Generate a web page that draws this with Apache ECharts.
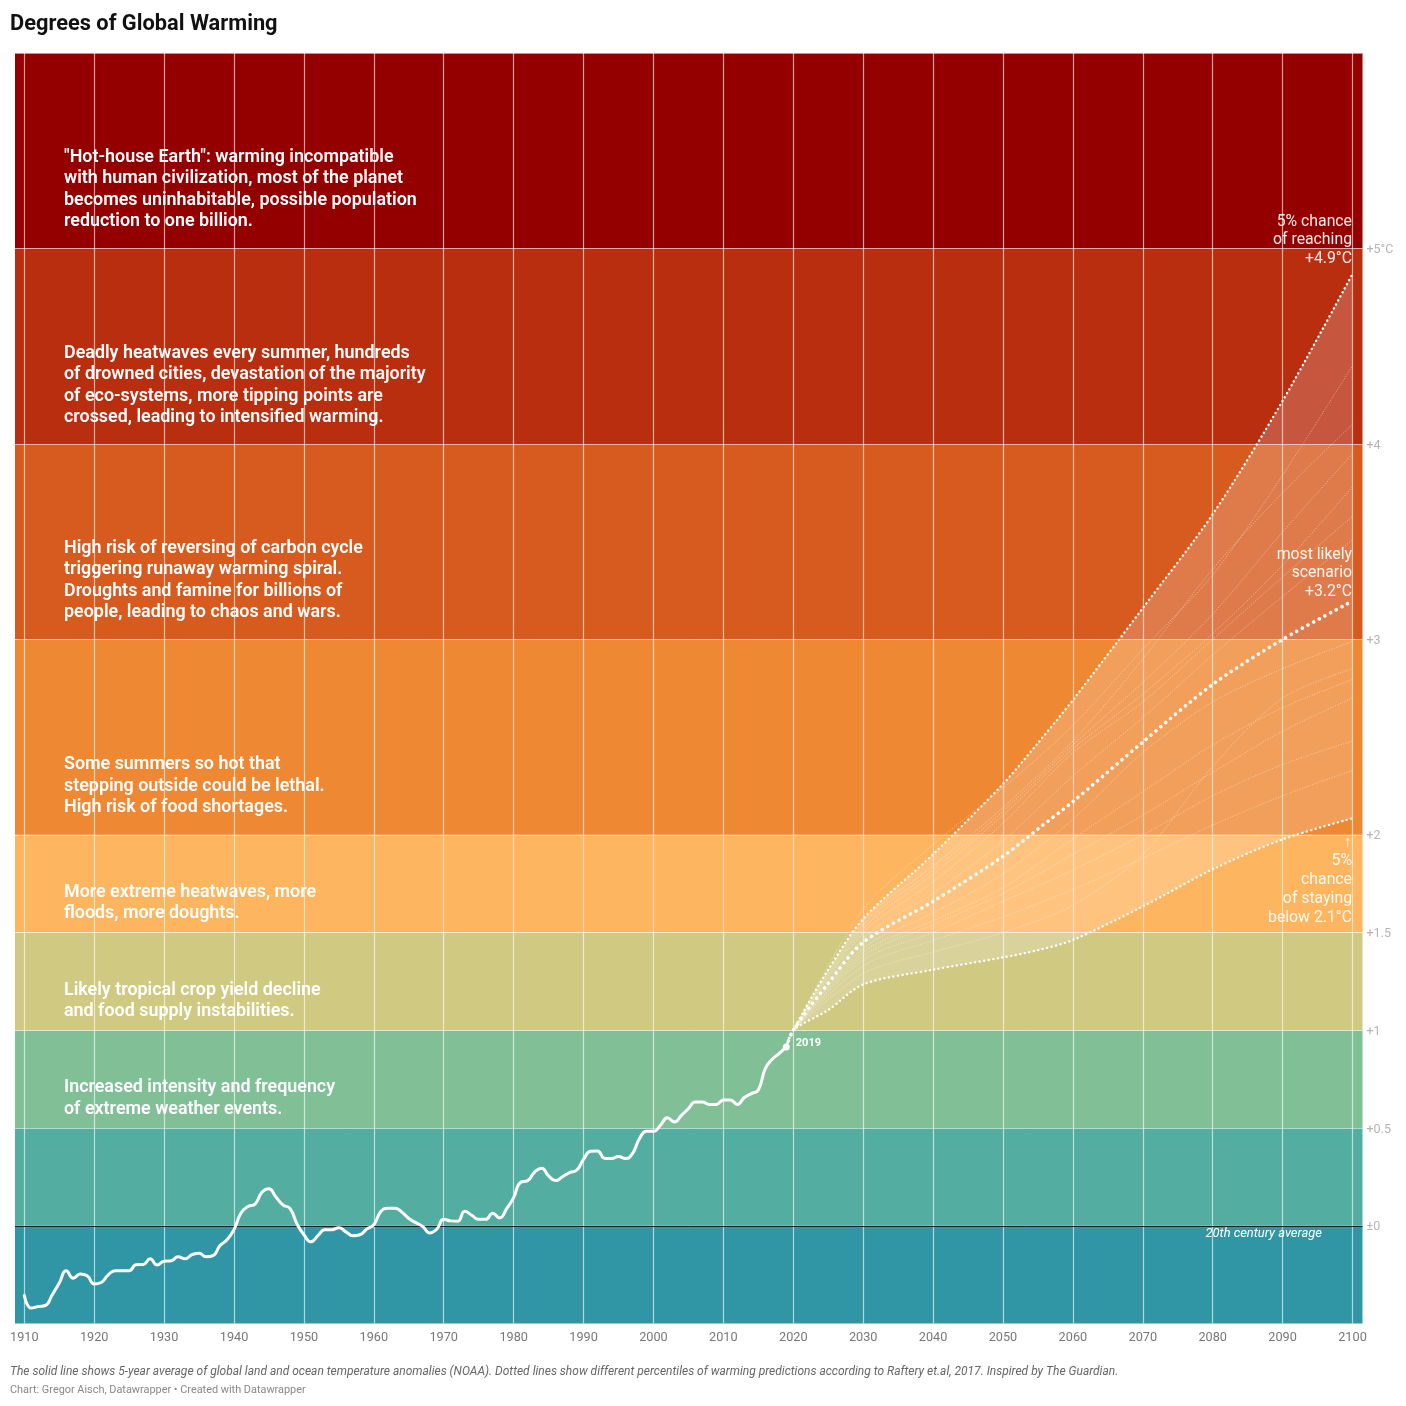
<!DOCTYPE html>
<html>
<head>
<meta charset="utf-8">
<title>Degrees of Global Warming</title>
<script src="https://cdn.jsdelivr.net/npm/echarts@6/dist/echarts.min.js"></script>
<style>
  html, body { margin: 0; padding: 0; background: #fff; }
  #chart { width: 1406px; height: 1406px; }
</style>
</head>
<body>
<div id="chart"></div>
<script>
// Observed 5-year average anomaly, one value per year from 1910.
const historyStartYear = 1910;
const historyValues = [
  -0.356, -0.421, -0.413, -0.408, -0.353, -0.293, -0.230, -0.268, -0.247, -0.256,
  -0.298, -0.290, -0.251, -0.230, -0.230, -0.230, -0.199, -0.198, -0.169, -0.201,
  -0.181, -0.179, -0.159, -0.169, -0.148, -0.140, -0.159, -0.153, -0.101, -0.072,
  -0.020, 0.065, 0.099, 0.111, 0.172, 0.189, 0.147, 0.107, 0.089, 0.010,
  -0.046, -0.082, -0.051, -0.020, -0.020, -0.010, -0.031, -0.051, -0.046, -0.017,
  0.005, 0.073, 0.090, 0.090, 0.070, 0.037, 0.016, -0.004, -0.037, -0.018,
  0.033, 0.025, 0.023, 0.074, 0.054, 0.033, 0.033, 0.064, 0.040, 0.088,
  0.144, 0.223, 0.231, 0.275, 0.294, 0.255, 0.231, 0.251, 0.272, 0.284,
  0.340, 0.381, 0.383, 0.345, 0.344, 0.354, 0.344, 0.369, 0.446, 0.483,
  0.483, 0.514, 0.553, 0.531, 0.565, 0.599, 0.633, 0.633, 0.621, 0.621,
  0.644, 0.644, 0.621, 0.656, 0.676, 0.695, 0.804, 0.852, 0.882, 0.915,
];

// Percentile projections, all sharing projectionYears.
const projectionYears = [2019, 2020, 2025, 2030, 2040, 2050, 2055, 2060, 2070, 2080, 2090, 2100];
const upperValues = [0.915, 1.0, 1.31, 1.57, 1.90, 2.26, 2.47, 2.69, 3.16, 3.64, 4.22, 4.87];
const medianValues = [0.915, 1.0, 1.24, 1.45, 1.66, 1.89, 2.03, 2.17, 2.475, 2.77, 3.0, 3.196];
const lowerValues = [0.915, 1.0, 1.104, 1.235, 1.31, 1.373, 1.41, 1.462, 1.634, 1.824, 1.977, 2.085];

// Faint single scenarios, read at each decade.
const scenarioYears = [2020, 2030, 2040, 2050, 2060, 2070, 2080, 2090, 2100];
const scenarioA = [1, 1.62, 1.95, 2.24, 2.56, 2.95, 3.33, 3.84, 4.40];
const scenarioB = [1, 1.56, 1.84, 2.14, 2.48, 2.90, 3.36, 3.75, 4.10];
const scenarioC = [1, 1.54, 1.82, 2.12, 2.46, 2.78, 3.13, 3.55, 3.95];
const scenarioD = [1, 1.52, 1.80, 2.10, 2.44, 2.72, 3.03, 3.38, 3.78];
const scenarioE = [1, 1.50, 1.76, 2.06, 2.42, 2.68, 3.00, 3.32, 3.63];
const scenarioF = [1, 1.47, 1.70, 1.97, 2.30, 2.60, 2.92, 3.22, 3.51];
const scenarioG = [1, 1.42, 1.60, 1.80, 2.08, 2.42, 2.68, 2.85, 2.99];
const scenarioH = [1, 1.40, 1.56, 1.73, 1.98, 2.22, 2.46, 2.65, 2.795];
const scenarioI = [1, 1.38, 1.54, 1.70, 1.90, 2.10, 2.32, 2.53, 2.70];
const scenarioJ = [1, 1.36, 1.50, 1.66, 1.82, 2.00, 2.20, 2.36, 2.48];
const scenarioK = [1, 1.33, 1.46, 1.58, 1.72, 1.88, 2.05, 2.20, 2.33];
const scenarioL = [1, 1.29, 1.40, 1.50, 1.64, 1.90, 2.35, 2.70, 2.85];
const scenarios = [
  scenarioA, scenarioB, scenarioC, scenarioD, scenarioE, scenarioF,
  scenarioG, scenarioH, scenarioI, scenarioJ, scenarioK, scenarioL,
];

// Warming bands from coldest to hottest.
const bandEdges = [-0.5, 0, 0.5, 1, 1.5, 2, 3, 4, 5, 6];
const bandColors = ["#3096a5", "#53ada0", "#81c097", "#d0c982", "#fdb55f", "#ef8833", "#d75a1e", "#b82e0e", "#940000"];

const xTickValues = [];
for (let year = 1910; year <= 2100; year += 10) xTickValues.push(year);
const yTickValues = [0, 0.5, 1, 1.5, 2, 3, 4, 5];
const yTickLabels = ["±0", "+0.5", "+1", "+1.5", "+2", "+3", "+4", "+5°C"];

const projectionSmooth = 0.3;

function pairs(years, values) {
  // Zip years and values into [x, y] data for a value axis.
  return values.map((value, index) => [years[index], value]);
}

function curveSegments(points, smooth) {
  // Same control points as a smooth line series, so the shade meets the dotted edges.
  const controls = points.map((point, i) => {
    const prev = points[Math.max(i - 1, 0)];
    const next = points[Math.min(i + 1, points.length - 1)];
    const lenPrev = Math.hypot(point[0] - prev[0], point[1] - prev[1]);
    const lenNext = Math.hypot(next[0] - point[0], next[1] - point[1]);
    const ratio = lenNext / (lenPrev + lenNext);
    const vx = next[0] - prev[0];
    const vy = next[1] - prev[1];
    return {
      before: [point[0] - vx * smooth * (1 - ratio), point[1] - vy * smooth * (1 - ratio)],
      after: [point[0] + vx * smooth * ratio, point[1] + vy * smooth * ratio],
    };
  });
  controls[0].after = points[0];
  controls[points.length - 1].before = points[points.length - 1];
  return points.slice(1).map((point, i) => ({
    start: points[i],
    c0: controls[i].after,
    c1: controls[i + 1].before,
    end: point,
  }));
}

function rangePath(upperPoints, lowerPoints, smooth) {
  // Closed outline: along the upper edge, then back along the lower edge.
  const upper = curveSegments(upperPoints, smooth);
  const lower = curveSegments(lowerPoints, smooth).reverse();
  const commands = [`M${upperPoints[0].join(" ")}`];
  upper.forEach((s) => commands.push(`C${s.c0.join(" ")} ${s.c1.join(" ")} ${s.end.join(" ")}`));
  commands.push(`L${lowerPoints[lowerPoints.length - 1].join(" ")}`);
  lower.forEach((s) => commands.push(`C${s.c1.join(" ")} ${s.c0.join(" ")} ${s.start.join(" ")}`));
  commands.push("Z");
  return commands.join(" ");
}

function leftText(left, top, lines, size, weight, lineHeight, fill) {
  // Left aligned annotation block.
  return {
    type: "text",
    x: left,
    y: top,
    silent: true,
    z: 100,
    style: {
      text: lines.join("\n"),
      fill: fill || "#fff",
      font: `${weight} ${size}px Roboto`,
      lineHeight,
      align: "left",
    },
  };
}

function rightText(right, top, lines) {
  // Right aligned label at the end of a projection line.
  return {
    type: "text",
    x: right,
    y: top,
    silent: true,
    z: 100,
    style: {
      text: lines.join("\n"),
      fill: "rgba(255,255,255,0.92)",
      font: "400 15.8px Roboto",
      lineHeight: 18.7,
      align: "right",
    },
  };
}

const chart = echarts.init(document.getElementById("chart"), null, { renderer: "canvas" });

const historyYears = historyValues.map((_, index) => historyStartYear + index);

const storyFont = [17.9, 600, 21.5];

const option = {
  animation: false,
  textStyle: { fontFamily: "Roboto" },
  title: {
    text: "Degrees of Global Warming",
    left: 10,
    top: 14,
    padding: 0,
    textStyle: { fontFamily: "Roboto", fontSize: 21.8, fontWeight: 700, color: "#111" },
  },
  grid: { left: 15, right: 43.5, top: 53, bottom: 82.5 },
  xAxis: {
    type: "value",
    min: 1908.67,
    max: 2101.43,
    axisLine: { show: false },
    axisTick: { show: false },
    splitLine: { show: false },
    axisLabel: {
      customValues: xTickValues,
      margin: 8,
      fontSize: 12.7,
      color: "#777",
      formatter: (value) => String(value),
    },
  },
  yAxis: {
    type: "value",
    position: "right",
    min: -0.5,
    max: 6,
    axisLine: { show: false },
    axisTick: { show: false },
    splitLine: { show: false },
    axisLabel: {
      customValues: yTickValues,
      margin: 4,
      fontSize: 12.5,
      color: "#b4b4b4",
      // A short line box hung below the tick nudges the text just under its grid line.
      verticalAlign: "top",
      lineHeight: 3,
      formatter: (value) => yTickLabels[yTickValues.indexOf(value)],
    },
  },
  series: [
    {
      // Background bands and grid lines sit on an otherwise empty series.
      type: "line",
      data: [],
      silent: true,
      z: 0,
      markArea: {
        silent: true,
        z: 0,
        data: bandColors.map((color, index) => [
          { yAxis: bandEdges[index], itemStyle: { color, opacity: 1 } },
          { yAxis: bandEdges[index + 1] },
        ]),
      },
      markLine: {
        silent: true,
        z: 1,
        symbol: "none",
        label: { show: false },
        animation: false,
        data: [
          ...xTickValues.map((value) => ({
            xAxis: value,
            lineStyle: { color: "rgba(255,255,255,0.62)", width: 1.2, type: "solid" },
          })),
          ...yTickValues.concat(bandEdges[bandEdges.length - 1]).map((value) => ({
            yAxis: value,
            lineStyle: value === 0
              ? { color: "#222", width: 1, type: "solid" }
              : { color: "rgba(255,255,255,0.55)", width: 1, type: "solid" },
          })),
        ],
      },
    },
    {
      // Shaded range between the lower and upper percentile.
      type: "custom",
      silent: true,
      z: 2,
      coordinateSystem: "cartesian2d",
      data: [0],
      renderItem: (params, api) => {
        const upperPoints = pairs(projectionYears, upperValues).map((point) => api.coord(point));
        const lowerPoints = pairs(projectionYears, lowerValues).map((point) => api.coord(point));
        return {
          type: "path",
          shape: { pathData: rangePath(upperPoints, lowerPoints, projectionSmooth) },
          style: { fill: "rgba(255,255,255,0.2)" },
        };
      },
    },
    ...scenarios.map((values) => ({
      type: "line",
      data: pairs(scenarioYears, values),
      showSymbol: false,
      silent: true,
      smooth: projectionSmooth,
      z: 3,
      lineStyle: { color: "rgba(255,255,255,0.48)", width: 1, type: [1, 1.6] },
    })),
    {
      type: "line",
      data: pairs(projectionYears, upperValues),
      showSymbol: false,
      silent: true,
      smooth: projectionSmooth,
      z: 4,
      lineStyle: { color: "#fff", width: 2.4, type: [0.1, 4.5], cap: "round" },
    },
    {
      type: "line",
      data: pairs(projectionYears, lowerValues),
      showSymbol: false,
      silent: true,
      smooth: projectionSmooth,
      z: 4,
      lineStyle: { color: "#fff", width: 2.4, type: [0.1, 4.5], cap: "round" },
    },
    {
      type: "line",
      data: pairs(projectionYears, medianValues),
      showSymbol: false,
      silent: true,
      smooth: projectionSmooth,
      z: 4,
      lineStyle: { color: "#fff", width: 3.6, type: [0.1, 6.3], cap: "round" },
    },
    {
      type: "line",
      data: pairs(historyYears, historyValues),
      showSymbol: false,
      silent: true,
      smooth: 0.5,
      z: 5,
      lineStyle: { color: "#fff", width: 3, cap: "round", join: "round" },
    },
    {
      // Last observed year.
      type: "scatter",
      data: [[2019, historyValues[historyValues.length - 1]]],
      symbolSize: 7,
      silent: true,
      z: 6,
      itemStyle: { color: "#fff", opacity: 1 },
      label: {
        show: true,
        position: "right",
        distance: 6,
        offset: [0, -4],
        formatter: "2019",
        color: "#fff",
        fontFamily: "Roboto",
        fontWeight: 700,
        fontSize: 11,
      },
    },
  ],
  graphic: [
    leftText(64, 146.3, ["\"Hot-house Earth\": warming incompatible", "with human civilization, most of the planet", "becomes uninhabitable, possible population", "reduction to one billion."], ...storyFont),
    leftText(64, 342.3, ["Deadly heatwaves every summer, hundreds", "of drowned cities, devastation of the majority", "of eco-systems, more tipping points are", "crossed, leading to intensified warming."], ...storyFont),
    leftText(64, 537.3, ["High risk of reversing of carbon cycle", "triggering runaway warming spiral.", "Droughts and famine for billions of", "people, leading to chaos and wars."], ...storyFont),
    leftText(64, 754, ["Some summers so hot that", "stepping outside could be lethal.", "High risk of food shortages."], ...storyFont),
    leftText(64, 881.5, ["More extreme heatwaves, more", "floods, more doughts."], ...storyFont),
    leftText(64, 979.3, ["Likely tropical crop yield decline", "and food supply instabilities."], ...storyFont),
    leftText(64, 1077, ["Increased intensity and frequency", "of extreme weather events."], ...storyFont),
    rightText(1352, 212.5, ["5% chance", "of reaching", "+4.9°C"]),
    rightText(1352, 545.5, ["most likely", "scenario", "+3.2°C"]),
    rightText(1352, 833.5, ["↑", "5%", "chance", "of staying", "below 2.1°C"]),
    leftText(1205.5, 1226, ["20th century average"], 12.9, "italic 400", 15),
    leftText(10, 1364, ["The solid line shows 5-year average of global land and ocean temperature anomalies (NOAA). Dotted lines show different percentiles of warming predictions according to Raftery et.al, 2017. Inspired by The Guardian."], 12, "italic 400", 15, "#666"),
    leftText(10, 1383, ["Chart: Gregor Aisch, Datawrapper • Created with Datawrapper"], 10.9, 400, 14, "#888"),
  ],
};

chart.setOption(option);
</script>
</body>
</html>
